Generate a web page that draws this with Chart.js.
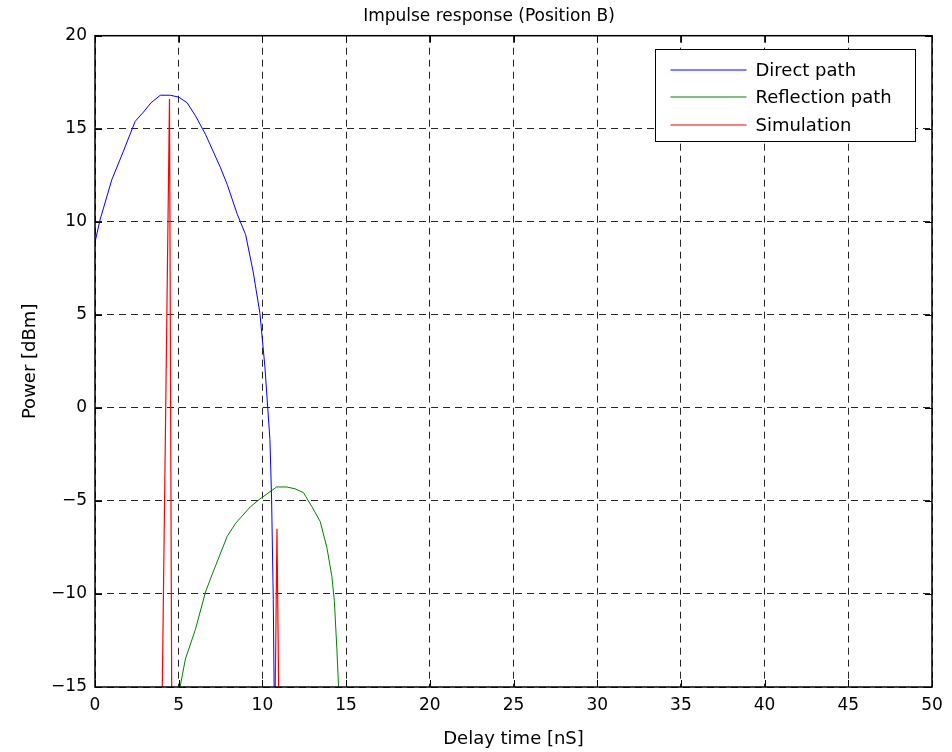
<!DOCTYPE html>
<html>
<head>
<meta charset="utf-8">
<script src="https://cdn.jsdelivr.net/npm/chart.js@4/dist/chart.umd.min.js"></script>
<style>
  body { margin: 0; background: #fff; }
  #wrap { width: 952px; height: 752px; }
</style>
</head>
<body>
<div id="wrap"><canvas id="chart" width="952" height="752"></canvas></div>
<script>
// delay time [nS] / power [dBm]
const directX = [0, 0.3, 1.0, 1.7, 2.4, 2.9, 3.35, 3.9, 4.5, 5.0, 5.5, 6.0, 6.6, 7.5, 7.9, 8.5, 9.0, 9.45, 9.85, 10.15, 10.45, 10.55, 10.65, 10.7];
const directY = [8.9, 10.1, 12.25, 13.8, 15.4, 15.9, 16.4, 16.8, 16.8, 16.7, 16.4, 15.7, 14.7, 12.9, 12.0, 10.4, 9.3, 7.3, 5.1, 2.2, -1.7, -4.9, -10.3, -15];

const reflectX = [5.08, 5.4, 6.0, 6.6, 7.0, 7.9, 8.4, 9.3, 9.85, 10.85, 11.45, 11.95, 12.45, 12.95, 13.45, 13.85, 14.15, 14.3, 14.45, 14.55];
const reflectY = [-15, -13.5, -11.9, -9.9, -8.95, -6.9, -6.2, -5.3, -4.9, -4.25, -4.25, -4.35, -4.55, -5.3, -6.1, -7.5, -9.05, -10.4, -13.0, -15];

// simulation impulses (null = break between spikes)
const simX = [4.02, 4.45, 4.58, null, 10.77, 10.87, 10.97];
const simY = [-15, 16.6, -15, null, -15, -6.5, -15];

const seriesNames = ['Direct path', 'Reflection path', 'Simulation'];
const seriesColors = ['rgb(0,0,255)', 'rgb(0,128,0)', 'rgb(255,0,0)'];

const xTicks = [0, 5, 10, 15, 20, 25, 30, 35, 40, 45, 50];
const yTicks = [-15, -10, -5, 0, 5, 10, 15, 20];

const FONT = "'DejaVu Sans', sans-serif";

function toPoints(xs, ys)
{
    return xs.map((x, i) => ({ x: x, y: ys[i] }));
}

// inward tick marks + solid frame round the plot
const framePlugin = {
    id: 'frame',
    afterDatasetsDraw(chart) {
        const ctx = chart.ctx;
        const a = chart.chartArea;
        const xs = chart.scales.x, ys = chart.scales.y;
        ctx.save();
        ctx.strokeStyle = '#000';
        ctx.lineWidth = 1;
        ctx.beginPath();
        xTicks.forEach((v) => {
            const px = Math.round(xs.getPixelForValue(v)) + 0.5;
            ctx.moveTo(px, a.bottom); ctx.lineTo(px, a.bottom - 7);
            ctx.moveTo(px, a.top); ctx.lineTo(px, a.top + 7);
        });
        yTicks.forEach((v) => {
            const py = Math.round(ys.getPixelForValue(v)) + 0.5;
            ctx.moveTo(a.left, py); ctx.lineTo(a.left + 7, py);
            ctx.moveTo(a.right, py); ctx.lineTo(a.right - 7, py);
        });
        ctx.stroke();
        ctx.lineWidth = 1.5;
        ctx.strokeRect(a.left, a.top, a.right - a.left, a.bottom - a.top);
        ctx.restore();
    }
};

// boxed legend in the top right corner
const boxLegendPlugin = {
    id: 'boxLegend',
    afterDraw(chart) {
        const ctx = chart.ctx;
        const a = chart.chartArea;
        ctx.save();
        ctx.font = '18px ' + FONT;
        const padL = 15, lineLen = 76, gap = 9, rowH = 27.5;
        const w = 260, h = 92;
        const left = Math.round(a.right - 17 - w) + 0.5;
        const top = Math.round(a.top + 13.5) + 0.5;
        ctx.fillStyle = '#fff';
        ctx.fillRect(left, top, w, h);
        ctx.strokeStyle = '#000';
        ctx.lineWidth = 1;
        ctx.strokeRect(left, top, w, h);
        ctx.textBaseline = 'middle';
        seriesNames.forEach((name, i) => {
            const cy = Math.round(top + 20 + i * rowH);
            ctx.strokeStyle = seriesColors[i];
            ctx.lineWidth = 1.2;
            ctx.beginPath();
            ctx.moveTo(left + padL, cy);
            ctx.lineTo(left + padL + lineLen, cy);
            ctx.stroke();
            ctx.fillStyle = '#000';
            ctx.fillText(name, left + padL + lineLen + gap, cy + 1);
        });
        ctx.restore();
    }
};

const minus = (v) => String(v).replace('-', '\u2212');

const ctx = document.getElementById('chart').getContext('2d');
const chart = new Chart(ctx, {
    type: 'scatter',
    data: {
        datasets: [
            { label: seriesNames[0], data: toPoints(directX, directY), borderColor: seriesColors[0], borderWidth: 1, showLine: true, pointRadius: 0, tension: 0 },
            { label: seriesNames[1], data: toPoints(reflectX, reflectY), borderColor: seriesColors[1], borderWidth: 1, showLine: true, pointRadius: 0, tension: 0 },
            { label: seriesNames[2], data: toPoints(simX, simY), borderColor: seriesColors[2], borderWidth: 1.2, showLine: true, pointRadius: 0, tension: 0, spanGaps: false }
        ]
    },
    options: {
        responsive: false,
        animation: false,
        devicePixelRatio: 1,
        layout: { padding: { left: 46, right: 20, top: 0, bottom: 0 } },
        plugins: {
            legend: { display: false },
            tooltip: { enabled: false },
            title: {
                display: true,
                text: 'Impulse response (Position B)',
                color: '#000',
                font: { family: FONT, size: 17, weight: 'normal' },
                padding: { top: 6.5, bottom: 8.8 }
            }
        },
        scales: {
            x: {
                type: 'linear', min: 0, max: 50,
                afterFit: (s) => { s.height = 65; },
                afterBuildTicks: (s) => { s.ticks = xTicks.map((v) => ({ value: v })); },
                grid: { color: 'rgba(0,0,0,0.85)', lineWidth: 1, drawTicks: false },
                border: { display: false, dash: [7, 5] },
                ticks: { color: '#000', padding: 8, maxRotation: 0, font: { family: FONT, size: 17 }, callback: (v) => minus(v) },
                title: { display: true, text: 'Delay time [nS]', color: '#000', font: { family: FONT, size: 18 }, padding: { top: 0, bottom: 2 } }
            },
            y: {
                type: 'linear', min: -15, max: 20,
                afterFit: (s) => { s.width = 49; },
                afterBuildTicks: (s) => { s.ticks = yTicks.map((v) => ({ value: v })); },
                grid: { color: 'rgba(0,0,0,0.85)', lineWidth: 1, drawTicks: false },
                border: { display: false, dash: [7, 5] },
                ticks: { color: '#000', padding: 8, font: { family: FONT, size: 17 }, callback: (v) => minus(v) },
                title: { display: true, text: 'Power [dBm]', color: '#000', font: { family: FONT, size: 18 }, padding: { top: -26.8, bottom: 0 } }
            }
        }
    },
    plugins: [framePlugin, boxLegendPlugin]
});
</script>
</body>
</html>
